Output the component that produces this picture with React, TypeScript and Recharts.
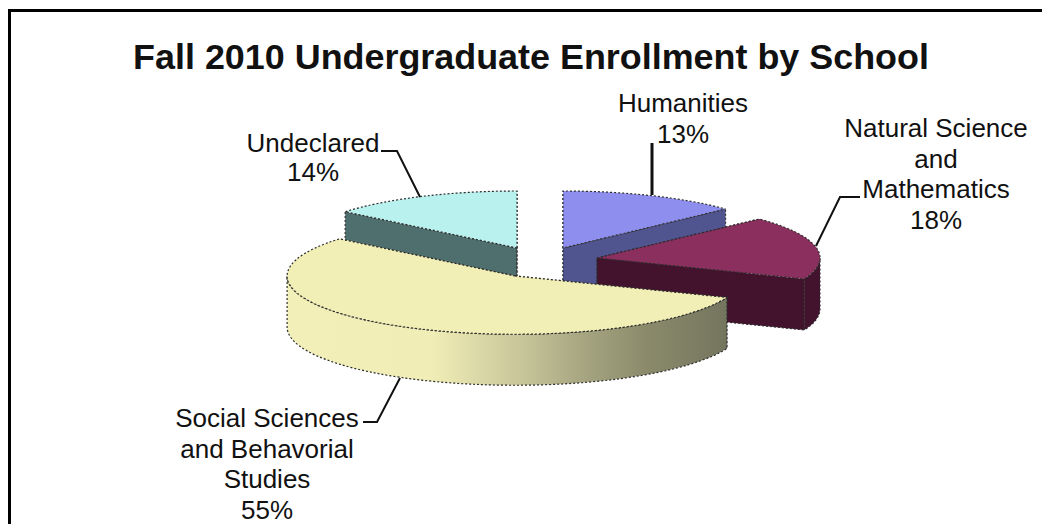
import { PieChart, Pie } from 'recharts';

const categories = ['Undeclared', 'Humanities', 'Natural Science and Mathematics', 'Social Sciences and Behavioral Studies'];
const shares = [14, 13, 18, 55];

const chartData = categories.map((name, i) => ({ name, value: shares[i] }));

// --- look of each slice, same order as categories ---
const topColors = ['#B9F1EF', '#8E8EEE', '#8A2F5E', '#F2EFB6'];
const sideColors = ['#4F6E6E', '#50558F', '#43122D', 'url(#socialSide)'];
const explode = [
  { dx: -23, dy: -8, grow: 1 },
  { dx: 23, dy: -8, grow: 1 },
  { dx: 57, dy: 2, grow: 1 },
  { dx: -25, dy: 20, grow: 1.022 },
];

const labelLines = [
  ['Undeclared'],
  ['Humanities'],
  ['Natural Science', 'and', 'Mathematics'],
  ['Social Sciences', 'and Behavorial', 'Studies'],
];
const labelSpots = [
  { x: 313, y: 143, gap: 29 },
  { x: 683, y: 103, gap: 31 },
  { x: 936, y: 128, gap: 30.5 },
  { x: 267, y: 418, gap: 30.5 },
];
const leaders = [
  '381,151 397,151 420,197',
  '652,143 652,195',
  '860,197 840,197 816,246',
  '363,422 377,422 400,378',
];
const leaderWidths = [2, 3, 2, 2];

const SQUASH = 57 / 223;
const DEPTH = 51;
const RAD = Math.PI / 180;
const dotted = { stroke: '#2e2e2e', strokeWidth: 1.2, strokeDasharray: '2 2' };

const Slice3D = (props: any) => {
  const { cx, cy, startAngle, endAngle, index } = props;
  const ox = cx + explode[index].dx;
  const oy = cy + explode[index].dy;
  const rx = props.outerRadius * explode[index].grow;
  const ry = rx * SQUASH;
  const pt = (a: number) => [ox + rx * Math.cos(a * RAD), oy - ry * Math.sin(a * RAD)];
  const [x1, y1] = pt(startAngle);
  const [x2, y2] = pt(endAngle);
  const big = startAngle - endAngle > 180 ? 1 : 0;

  // only the part of the rim on the near half can be seen
  const rimFrom = Math.min(startAngle, 0);
  const rimTo = Math.max(endAngle, -180);
  let rim = null;
  if (rimFrom > rimTo) {
    const [ax, ay] = pt(rimFrom);
    const [bx, by] = pt(rimTo);
    const d = `M${ax},${ay} A${rx},${ry} 0 0 1 ${bx},${by} L${bx},${by + DEPTH} A${rx},${ry} 0 0 0 ${ax},${ay + DEPTH} Z`;
    rim = <path d={d} fill={sideColors[index]} {...dotted} />;
  }

  const wall = (x: number, y: number) =>
    `M${ox},${oy} L${x},${y} L${x},${y + DEPTH} L${ox},${oy + DEPTH} Z`;

  return (
    <g>
      <path d={wall(x1, y1)} fill={sideColors[index]} {...dotted} />
      <path d={wall(x2, y2)} fill={sideColors[index]} {...dotted} />
      {rim}
      <path
        d={`M${ox},${oy} L${x1},${y1} A${rx},${ry} 0 ${big} 1 ${x2},${y2} Z`}
        fill={topColors[index]}
        {...dotted}
      />
    </g>
  );
};

const SliceLabel = (props: any) => {
  const { index, value } = props;
  const spot = labelSpots[index];
  const lines = [...labelLines[index], `${value}%`];
  return (
    <g>
      <polyline points={leaders[index]} fill="none" stroke="#111" strokeWidth={leaderWidths[index]} />
      <text textAnchor="middle" fontSize={26} fill="#111" fontFamily="'Liberation Sans', Arial, sans-serif">
        {lines.map((line, i) => (
          <tspan key={i} x={spot.x} y={spot.y + i * spot.gap} dominantBaseline="central">
            {line}
          </tspan>
        ))}
      </text>
    </g>
  );
};

export default function App() {
  return (
    <div style={{ position: 'absolute', left: 0, top: 0, width: 1042, height: 524, background: '#fff', overflow: 'hidden' }}>
      <div style={{ position: 'absolute', left: 8, top: 9, width: 1034, height: 515, borderLeft: '3px solid #000', borderTop: '3px solid #000' }} />
      <div
        style={{
          position: 'absolute',
          left: 0,
          width: 1062,
          top: 36,
          textAlign: 'center',
          fontFamily: "'Liberation Sans', Arial, sans-serif",
          fontWeight: 700,
          fontSize: 35.9,
          lineHeight: '42px',
          color: '#111',
          whiteSpace: 'nowrap',
        }}
      >
        Fall 2010 Undergraduate Enrollment by School
      </div>
      <div style={{ position: 'absolute', left: 0, top: 0 }}>
        <PieChart width={1042} height={524} margin={{ top: 0, right: 0, bottom: 0, left: 0 }}>
          <defs>
            <linearGradient id="socialSide" x1="0" y1="0" x2="1" y2="0">
              <stop offset="0" stopColor="#F2EFB8" />
              <stop offset="0.33" stopColor="#F0EDB6" />
              <stop offset="0.53" stopColor="#C8C69A" />
              <stop offset="0.66" stopColor="#A9A883" />
              <stop offset="0.82" stopColor="#8A8A6B" />
              <stop offset="1" stopColor="#74755E" />
            </linearGradient>
          </defs>
          <Pie
            data={chartData}
            dataKey="value"
            nameKey="name"
            cx={540}
            cy={256}
            innerRadius={0}
            outerRadius={223}
            startAngle={140.4}
            endAngle={-219.6}
            stroke="none"
            shape={Slice3D}
            label={SliceLabel}
            labelLine={false}
            isAnimationActive={false}
          />
        </PieChart>
      </div>
    </div>
  );
}
